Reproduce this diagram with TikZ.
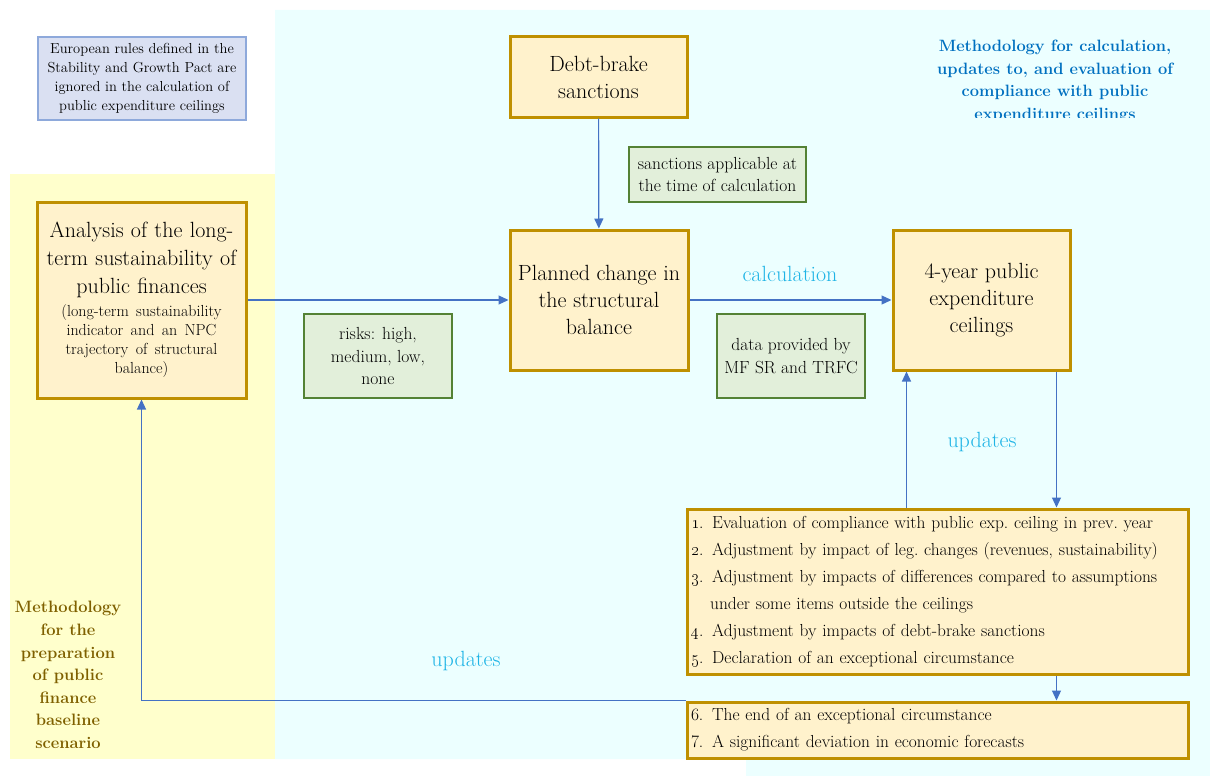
\documentclass[tikz,border=0pt]{standalone}
\usetikzlibrary{arrows.meta,positioning}

\definecolor{fondocian}{RGB}{236,255,255}
\definecolor{fondoamar}{RGB}{255,255,204}
\definecolor{cajanaranja}{RGB}{255,242,204}
\definecolor{bordenaranja}{RGB}{191,144,0}
\definecolor{cajaverde}{RGB}{226,239,218}
\definecolor{bordeverde}{RGB}{84,130,53}
\definecolor{cajaazul}{RGB}{218,224,242}
\definecolor{bordeazul}{RGB}{142,169,219}
\definecolor{azulflecha}{RGB}{68,114,196}
\definecolor{celeste}{RGB}{30,180,230}
\definecolor{azultitulo}{RGB}{0,112,192}
\definecolor{olivo}{RGB}{127,96,0}

\tikzset{
  caja/.style={draw=bordenaranja, fill=cajanaranja, line width=3pt, align=center,
    inner sep=3pt, font=\fontsize{22}{27}\selectfont},
  nota/.style={draw=bordeverde, fill=cajaverde, line width=2pt, align=center,
    inner sep=3pt, font=\fontsize{17.5}{22.5}\selectfont},
  lista/.style={draw=bordenaranja, fill=cajanaranja, line width=3pt, align=left,
    inner sep=4pt, text width=493pt, minimum width=501pt, font=\fontsize{17.4}{27}\selectfont},
  flecha/.style={draw=azulflecha, line width=1.2pt, -{Triangle[length=10pt,width=9pt]}},
  etiq/.style={text=celeste, font=\fontsize{22}{26}\selectfont},
}

\begin{document}
\begin{tikzpicture}[x=1pt,y=-1pt]
    \useasboundingbox (0,0) rectangle (1210,776);

    % Fondos
    \fill[fondocian] (275,10) -- (1210,10) -- (1210,776) -- (746,776)
        -- (746,759) -- (275,759) -- cycle;
    \fill[fondoamar] (10,174) rectangle (275,759);

    % Titulos
    \begin{scope}
        \clip (900,10) rectangle (1210,117);
        \node[text=azultitulo, align=center, font=\bfseries\fontsize{16.4}{22.5}\selectfont]
            (titulo) at (1055,81.5) {Methodology for calculation,\\updates to, and evaluation of\\compliance with public\\expenditure ceilings};
    \end{scope}
    \node[text=olivo, align=center, font=\bfseries\fontsize{16.5}{22.6}\selectfont]
        (metodo) at (68,675) {Methodology\\for the\\preparation\\of public\\finance\\baseline\\scenario};

    % Nota azul
    \node[draw=bordeazul, fill=cajaazul, line width=2pt, align=center, inner sep=2pt,
        minimum width=208pt, minimum height=83pt, font=\fontsize{14.5}{19}\selectfont]
        (reglas) at (142,78.5) {European rules defined in the\\Stability and Growth Pact are\\ignored in the calculation of\\public expenditure ceilings};

    % Cajas principales
    \node[caja, minimum width=207pt, minimum height=196pt, text width=203pt] (analisis) at (141.5,300)
        {\fontsize{22}{28}\selectfont Analysis of the long-\\term sustainability of\\public finances\par
         \vspace{4pt}\fontsize{16}{19}\selectfont (long-term sustainability\\indicator and an NPC\\trajectory of structural\\balance)\par};
    \node[caja, minimum width=177pt, minimum height=80pt] (freno) at (598.5,77) {Debt-brake\\sanctions};
    \node[caja, minimum width=178pt, minimum height=140pt] (plan) at (599,300)
        {Planned change in\\the structural\\balance};
    \node[caja, minimum width=177pt, minimum height=140pt] (techo) at (981.5,300)
        {4-year public\\expenditure\\ceilings};

    % Notas verdes
    \node[nota, minimum width=177pt, minimum height=55pt] (sanciones) at (717.5,174.5)
        {sanctions applicable at\\the time of calculation};
    \node[nota, minimum width=148pt, minimum height=84pt] (riesgos) at (378,356)
        {risks: high,\\medium, low,\\none};
    \node[nota, minimum width=148pt, minimum height=84pt] (datos) at (791,356)
        {data provided by\\MF SR and TRFC};

    % Listas
    \node[lista, minimum height=165pt] (lista1) at (937.5,591.5)
        {\oldstylenums{1}. Evaluation of compliance with public exp.\ ceiling in prev.\ year\\
         \oldstylenums{2}. Adjustment by impact of leg.\ changes (revenues, sustainability)\\
         \oldstylenums{3}. Adjustment by impacts of differences compared to assumptions\\
         \hspace*{1.1em}under some items outside the ceilings\\
         \oldstylenums{4}. Adjustment by impacts of debt-brake sanctions\\
         \oldstylenums{5}. Declaration of an exceptional circumstance};
    \node[lista, minimum height=56pt] (lista2) at (937.5,730)
        {6. The end of an exceptional circumstance\\
         7. A significant deviation in economic forecasts};

    % Flechas
    \coordinate (baja) at ([xshift=75pt]techo.south);
    \coordinate (sube) at ([xshift=-75pt]techo.south);
    \draw[flecha] (analisis) -- (plan);
    \draw[flecha] (freno) -- (plan);
    \draw[flecha] (plan) -- (techo);
    \draw[flecha] (baja) -- (baja |- lista1.north);
    \draw[flecha] (sube |- lista1.north) -- (sube);
    \draw[flecha] (baja |- lista1.south) -- (baja |- lista2.north);
    \draw[flecha] (lista2.north west) -| (analisis.south);

    % Etiquetas
    \node[etiq] (calculo) at (790,274) {calculation};
    \node[etiq] (act1) at (982,442) {updates};
    \node[etiq] (act2) at (466,661) {updates};
\end{tikzpicture}
\end{document}
